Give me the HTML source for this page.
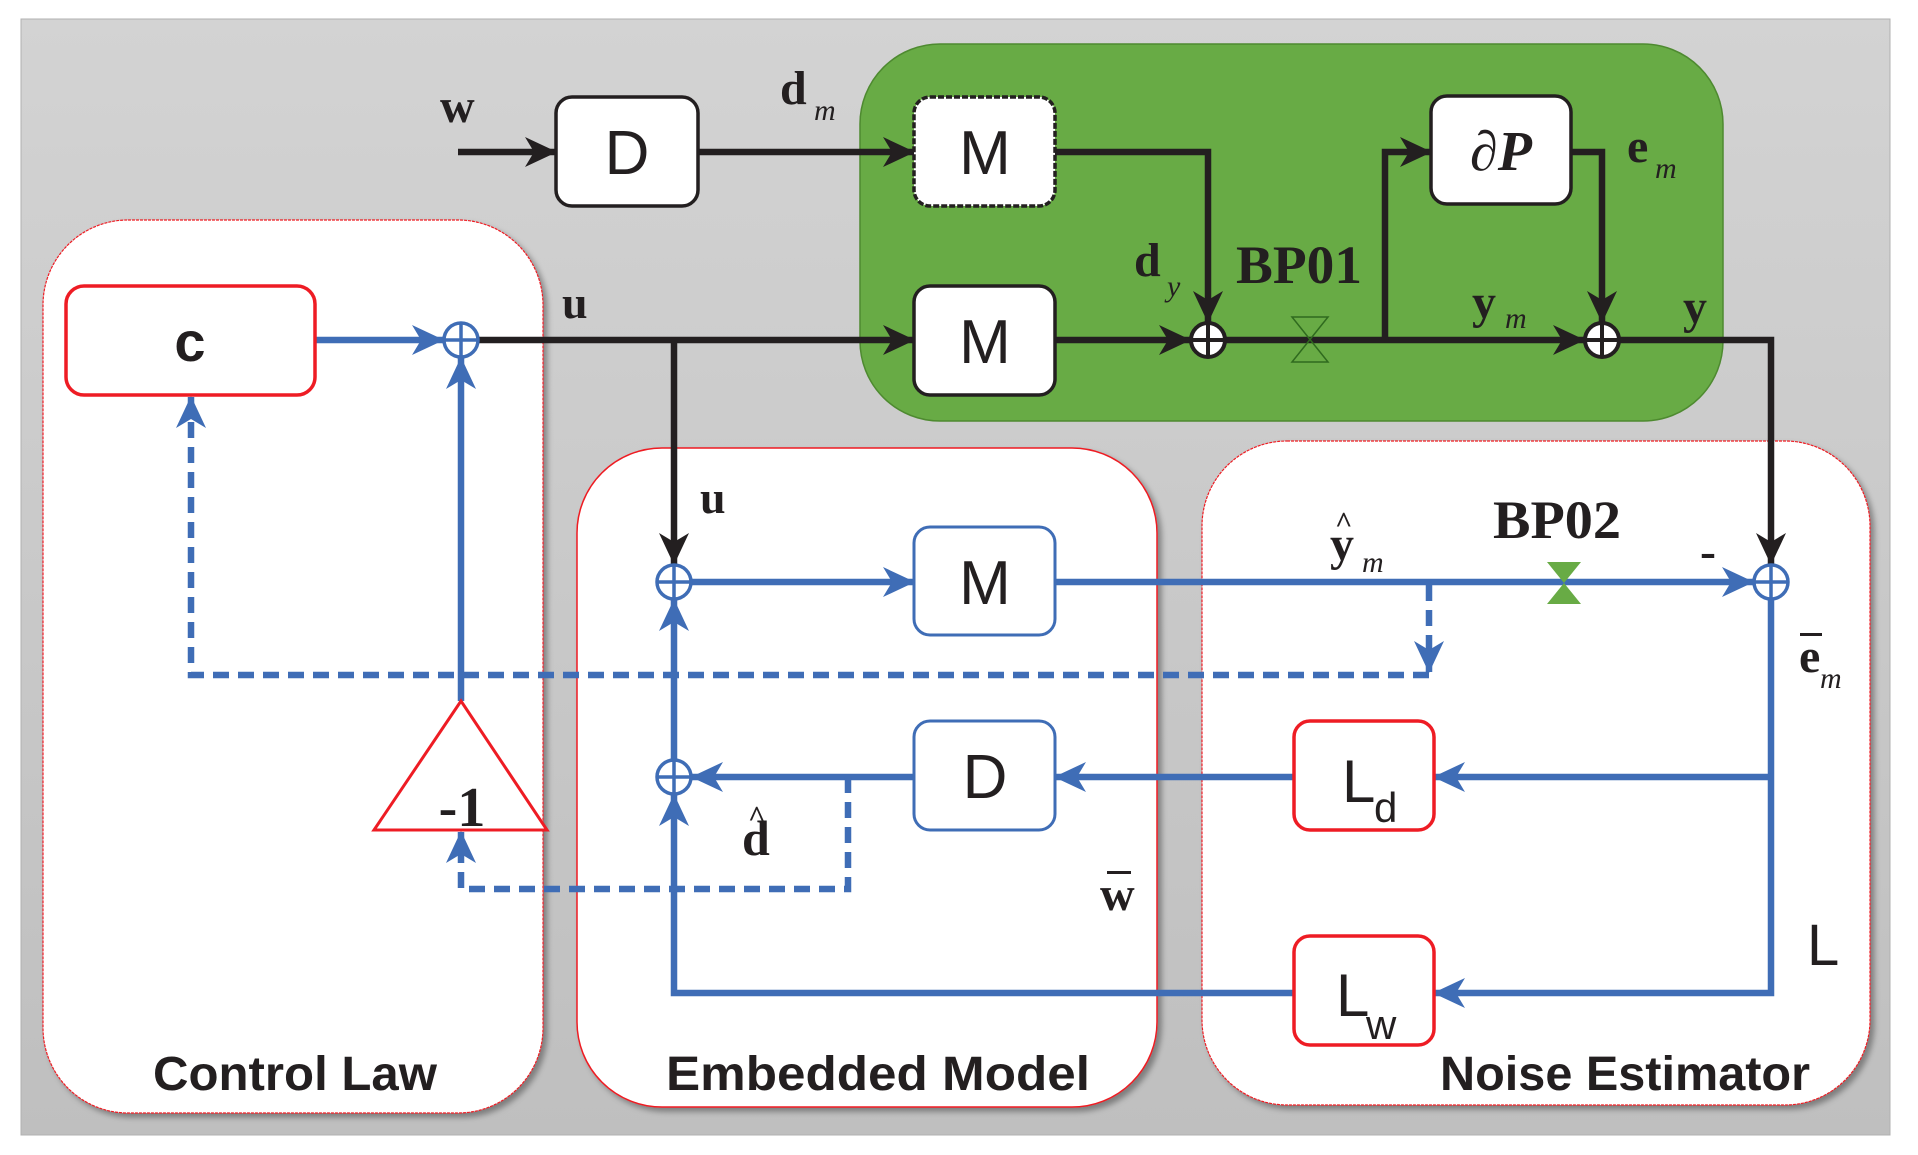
<!DOCTYPE html>
<html><head><meta charset="utf-8"><style>
html,body{margin:0;padding:0;background:#fff;}
svg{display:block;}
.ser{font-family:"Liberation Serif",serif;font-weight:bold;fill:#231f20;}
.it{font-family:"Liberation Serif",serif;font-style:italic;fill:#231f20;}
.san{font-family:"Liberation Sans",sans-serif;fill:#231f20;}
</style></head><body>
<svg width="1918" height="1155" viewBox="0 0 1918 1155" xmlns="http://www.w3.org/2000/svg">
<defs>
<linearGradient id="bg" x1="0" y1="0" x2="0" y2="1"><stop offset="0" stop-color="#d3d3d3"/><stop offset="1" stop-color="#bfbfbf"/></linearGradient>
<marker id="ak" markerWidth="34" markerHeight="34" refX="31" refY="17" orient="auto" markerUnits="userSpaceOnUse"><path d="M0,2 L32,17 L0,32 L9,17 Z" fill="#231f20"/></marker>
<marker id="ab" markerWidth="34" markerHeight="34" refX="31" refY="17" orient="auto" markerUnits="userSpaceOnUse"><path d="M0,2 L32,17 L0,32 L9,17 Z" fill="#3f6db6"/></marker>
<filter id="sh" x="-5%" y="-5%" width="110%" height="110%"><feDropShadow dx="4" dy="4" stdDeviation="3" flood-color="#000" flood-opacity="0.35"/></filter>
</defs>
<rect x="0" y="0" width="1918" height="1155" fill="#fff"/>
<rect x="21" y="19" width="1869" height="1116" fill="url(#bg)" stroke="#b0b0b0" stroke-width="1"/>
<!-- green plant -->
<rect x="860" y="44" width="863" height="377" rx="80" ry="80" fill="#68ab45" stroke="#4e8a30" stroke-width="1.5"/>
<!-- panels -->
<rect x="43" y="220" width="500" height="893" rx="85" ry="85" fill="#fff" stroke="#ee1c24" stroke-width="1.2" stroke-dasharray="3,1" filter="url(#sh)"/>
<rect x="577" y="448" width="580" height="659" rx="85" ry="85" fill="#fff" stroke="#ee1c24" stroke-width="1.5" filter="url(#sh)"/>
<rect x="1202" y="441" width="668" height="664" rx="85" ry="85" fill="#fff" stroke="#ee1c24" stroke-width="1.2" stroke-dasharray="3,1" filter="url(#sh)"/>

<!-- black lines -->
<g fill="none" stroke="#231f20" stroke-width="6.5">
<path d="M458,152 H556" marker-end="url(#ak)"/>
<path d="M698,152 H914" marker-end="url(#ak)"/>
<path d="M1055,152 H1208 V322" marker-end="url(#ak)"/>
<path d="M1055,340 H1190" marker-end="url(#ak)"/>
<path d="M479,340 H914" marker-end="url(#ak)"/>
<path d="M674,340 V564" marker-end="url(#ak)"/>
<path d="M1226,340 H1584" marker-end="url(#ak)"/>
<path d="M1385,340 V152 H1431" marker-end="url(#ak)"/>
<path d="M1571,152 H1602 V322" marker-end="url(#ak)"/>
<path d="M1620,340 H1771 V564" marker-end="url(#ak)"/>
</g>
<!-- blue solid -->
<g fill="none" stroke="#3f6db6" stroke-width="6.5">
<path d="M315,340 H443" marker-end="url(#ab)"/>
<path d="M461,701 V358" marker-end="url(#ab)"/>
<path d="M692,582 H914" marker-end="url(#ab)"/>
<path d="M1055,582 H1753" marker-end="url(#ab)"/>
<path d="M1771,600 V993 H1434" marker-end="url(#ab)"/>
<path d="M1771,777 H1434" marker-end="url(#ab)"/>
<path d="M1294,777 H1055" marker-end="url(#ab)"/>
<path d="M914,777 H692" marker-end="url(#ab)"/>
<path d="M1294,993 H674 V795" marker-end="url(#ab)"/>
<path d="M674,759 V600" marker-end="url(#ab)"/>
</g>
<!-- blue dashed -->
<g fill="none" stroke="#3f6db6" stroke-width="6.5" stroke-dasharray="16,9">
<path d="M1429,585 V672" marker-end="url(#ab)"/>
<path d="M1429,675 H191 V397" marker-end="url(#ab)"/>
<path d="M848,777 V889 H461 V832" marker-end="url(#ab)"/>
</g>

<!-- boxes -->
<g stroke-width="3.5">
<rect x="556" y="97" width="142" height="109" rx="16" fill="#fff" stroke="#231f20"/>
<rect x="914" y="97" width="141" height="109" rx="16" fill="#fff" stroke="#231f20" stroke-dasharray="6,2"/>
<rect x="914" y="286" width="141" height="109" rx="16" fill="#fff" stroke="#231f20"/>
<rect x="1431" y="96" width="140" height="108" rx="16" fill="#fff" stroke="#231f20"/>
<rect x="66" y="286" width="249" height="109" rx="18" fill="#fff" stroke="#ee1c24"/>
<rect x="914" y="527" width="141" height="108" rx="16" fill="#fff" stroke="#3f6db6" stroke-width="3"/>
<rect x="914" y="721" width="141" height="109" rx="16" fill="#fff" stroke="#3f6db6" stroke-width="3"/>
<rect x="1294" y="721" width="140" height="109" rx="16" fill="#fff" stroke="#ee1c24"/>
<rect x="1294" y="936" width="140" height="109" rx="16" fill="#fff" stroke="#ee1c24"/>
</g>
<polygon points="461,701 547,830 374,830" fill="#fff" stroke="#ee1c24" stroke-width="3"/>

<!-- sum junctions -->
<g stroke="#231f20" stroke-width="4" fill="#fff">
<circle cx="1208" cy="340" r="17"/><path d="M1191,340 H1225 M1208,323 V357"/>
<circle cx="1602" cy="340" r="17"/><path d="M1585,340 H1619 M1602,323 V357"/>
</g>
<g stroke="#3f6db6" stroke-width="3.5" fill="#fff">
<circle cx="461" cy="340" r="17"/><path d="M444,340 H478 M461,323 V357"/>
<circle cx="674" cy="582" r="17"/><path d="M657,582 H691 M674,565 V599"/>
<circle cx="674" cy="777" r="17"/><path d="M657,777 H691 M674,760 V794"/>
<circle cx="1771" cy="582" r="17"/><path d="M1754,582 H1788 M1771,565 V599"/>
</g>
<!-- BP hourglasses -->
<path d="M1292,317 H1328 L1292,362 H1328 Z" fill="none" stroke="#2f6a1e" stroke-width="1.5"/>
<path d="M1547,562 H1581 L1547,604 H1581 Z" fill="#68ab45"/>

<!-- box text -->
<g class="san" font-size="62" text-anchor="middle">
<text x="627" y="174">D</text>
<text x="985" y="174">M</text>
<text x="985" y="363">M</text>
<text x="985" y="604">M</text>
<text x="985" y="798">D</text>
<text x="190" y="361" font-weight="bold" font-size="56">c</text>
</g>
<text x="1501" y="170" class="it" font-weight="bold" font-size="56" text-anchor="middle">∂P</text>
<text x="1342" y="802" class="san" font-size="60">L</text><text x="1374" y="822" class="san" font-size="42">d</text>
<text x="1336" y="1016" class="san" font-size="60">L</text><text x="1366" y="1039" class="san" font-size="42">w</text>
<text x="1807" y="965" class="san" font-size="58">L</text>
<text x="462" y="826" class="ser" font-size="56" text-anchor="middle">-1</text>

<!-- labels -->
<text x="440" y="122" class="ser" font-size="48">w</text>
<text x="780" y="104" class="ser" font-size="48">d</text><text x="814" y="120" class="it" font-size="30">m</text>
<text x="562" y="318" class="ser" font-size="46">u</text>
<text x="700" y="513" class="ser" font-size="46">u</text>
<text x="1134" y="276" class="ser" font-size="48">d</text><text x="1167" y="296" class="it" font-size="30">y</text>
<text x="1236" y="283" class="ser" font-size="54" textLength="126" lengthAdjust="spacingAndGlyphs">BP01</text>
<text x="1472" y="318" class="ser" font-size="48">y</text><text x="1505" y="328" class="it" font-size="30">m</text>
<text x="1627" y="162" class="ser" font-size="48">e</text><text x="1655" y="178" class="it" font-size="30">m</text>
<text x="1683" y="323" class="ser" font-size="48">y</text>
<text x="1493" y="538" class="ser" font-size="54" textLength="128" lengthAdjust="spacingAndGlyphs">BP02</text>
<text x="1330" y="560" class="ser" font-size="48">y</text><text x="1335" y="532" class="ser" font-size="30">^</text><text x="1362" y="572" class="it" font-size="30">m</text>
<text x="1700" y="567" class="ser" font-size="48">-</text>
<text x="1799" y="672" class="ser" font-size="48">e</text><rect x="1800" y="633" width="22" height="3" fill="#231f20"/><text x="1820" y="688" class="it" font-size="30">m</text>
<text x="1100" y="910" class="ser" font-size="48">w</text><rect x="1107" y="871" width="24" height="3" fill="#231f20"/>
<text x="742" y="855" class="ser" font-size="50" font-weight="normal">d</text><text x="748" y="826" class="ser" font-size="30" font-weight="normal">^</text>

<!-- titles -->
<g class="san" font-weight="bold" font-size="48">
<text x="153" y="1090" textLength="284" lengthAdjust="spacingAndGlyphs">Control Law</text>
<text x="666" y="1090" textLength="424" lengthAdjust="spacingAndGlyphs">Embedded Model</text>
<text x="1440" y="1090" textLength="370" lengthAdjust="spacingAndGlyphs">Noise Estimator</text>
</g>
</svg>
</body></html>
